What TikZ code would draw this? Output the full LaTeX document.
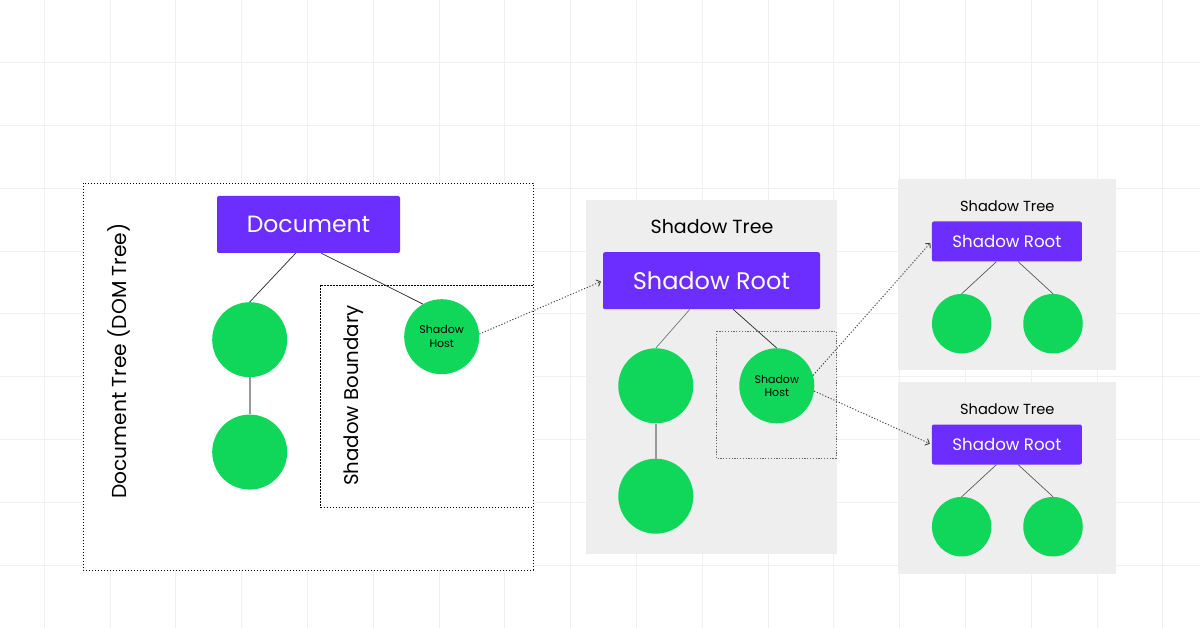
\documentclass[tikz,border=0pt]{standalone}
\usepackage{fontspec}
\setmainfont{Poppins}
\usetikzlibrary{positioning,calc,arrows.meta}

\definecolor{domPurple}{HTML}{6C2EFF}
\definecolor{domGreen}{HTML}{10D65A}
\definecolor{panelGray}{HTML}{EEEEEE}
\definecolor{gridGray}{HTML}{F0F0F0}

\begin{document}
\begin{tikzpicture}
  [x=1pt,y=-1pt,
   rootN/.style={rectangle,fill=domPurple,text=white,rounded corners=2pt,inner sep=0pt},
   leafN/.style={circle,fill=domGreen,minimum size=75pt,inner sep=0pt},
   smallLeafN/.style={circle,fill=domGreen,minimum size=59.5pt,inner sep=0pt},
   hostN/.style={leafN,font=\fontsize{11}{13.5}\selectfont,align=center},
   titleN/.style={anchor=base,inner sep=0pt},
   dotBox/.style={draw=black,line width=0.9pt,dash pattern=on 1.3pt off 1.7pt},
   treeLine/.style={draw=black!85,line width=0.7pt},
   stemLine/.style={draw=black!40,line width=2pt},
   linkArrow/.style={draw=black!75,line width=0.9pt,dash pattern=on 1.2pt off 1.8pt,
     -{Straight Barb[length=3.5pt,width=7pt,line width=0.9pt]}}]

  \useasboundingbox (0,0) rectangle (1200,628);
  \fill[white] (0,0) rectangle (1200,628);

  % background grid
  \foreach \gx in {0,...,17}
    \draw[gridGray,line width=1pt] ({44.3+65.8*\gx},0) -- ({44.3+65.8*\gx},628);
  \foreach \gy in {1,...,9}
    \draw[gridGray,line width=1pt] (0,{62.8*\gy}) -- (1200,{62.8*\gy});

  % DOM tree
  \draw[dotBox,fill=white] (83,183) rectangle (533,570);
  \draw[dotBox] (320.5,285.5) rectangle (533,507.5);

  \node[rootN,minimum width=183pt,minimum height=57pt,font=\fontsize{23.5}{28}\selectfont]
    (doc) at (308.5,224.5) {Document};

  \node[leafN] (c1) at (249.7,339.7) {};
  \node[leafN] (c2) [below=37pt of c1] {}
    edge [stemLine] (c1);
  \node[hostN] (host1) at (441.7,336.7) {Shadow\\Host};

  \draw[treeLine] ($(doc.south west)!0.43!(doc.south east)$) -- (c1.north);
  \draw[treeLine] ($(doc.south west)!0.57!(doc.south east)$) -- (host1.120);

  \node[rotate=90,titleN,font=\fontsize{20.2}{24}\selectfont] (domLbl) at (126.7,361) {Document Tree (DOM Tree)};
  \node[rotate=90,titleN,font=\fontsize{19.8}{24}\selectfont] (bndLbl) at (358.3,395.5) {Shadow Boundary};

  % first shadow tree
  \fill[panelGray] (586,200) rectangle (837,553.5);
  \node[titleN,font=\fontsize{19}{22}\selectfont] (stTitle) at (712,233.3) {Shadow Tree};
  \node[rootN,minimum width=217pt,minimum height=57pt,font=\fontsize{24}{28}\selectfont]
    (sroot) at (711.5,280.7) {Shadow Root};

  \node[leafN] (sa) at (655.8,385.8) {};
  \node[leafN] (sb) [below=35pt of sa] {}
    edge [stemLine] (sa);
  \node[hostN] (host2) at (776.8,385.8) {Shadow\\Host};
  \draw[draw=black!60,line width=0.7pt,dash pattern=on 1.2pt off 1.6pt] (716,331) rectangle (836,458.3);

  \draw[treeLine,draw=black!55] ($(sroot.south west)!0.40!(sroot.south east)$) -- (sa.north);
  \draw[treeLine] ($(sroot.south west)!0.60!(sroot.south east)$) -- (host2.north);

  % nested shadow trees
  \foreach \py/\tag in {179/A,382/B}{
    \fill[panelGray] (898,\py) rectangle (1116,{\py+191.5});
    \node[titleN,font=\fontsize{14.6}{17}\selectfont] (nTitle\tag) at (1007.3,{\py+32.7}) {Shadow Tree};
    \node[rootN,minimum width=150pt,minimum height=40pt,font=\fontsize{16.6}{20}\selectfont]
      (nroot\tag) at (1006.9,{\py+62.5}) {Shadow Root};
    \node[smallLeafN] (nl\tag) at (961.7,{\py+144.7}) {};
    \node[smallLeafN] (nr\tag) [right=31.4pt of nl\tag] {};
    \draw[treeLine,draw=black!65] ($(nroot\tag.south west)!0.43!(nroot\tag.south east)$) -- (nl\tag.north);
    \draw[treeLine,draw=black!65] ($(nroot\tag.south west)!0.575!(nroot\tag.south east)$) -- (nr\tag.north);
  }

  % host links
  \draw[linkArrow,shorten >=2pt] (host1.4) -- (sroot.west);
  \draw[linkArrow,shorten >=2pt] (host2.16) -- (nrootA.west);
  \draw[linkArrow,shorten >=2pt] (host2.-8) -- (nrootB.west);

\end{tikzpicture}
\end{document}
